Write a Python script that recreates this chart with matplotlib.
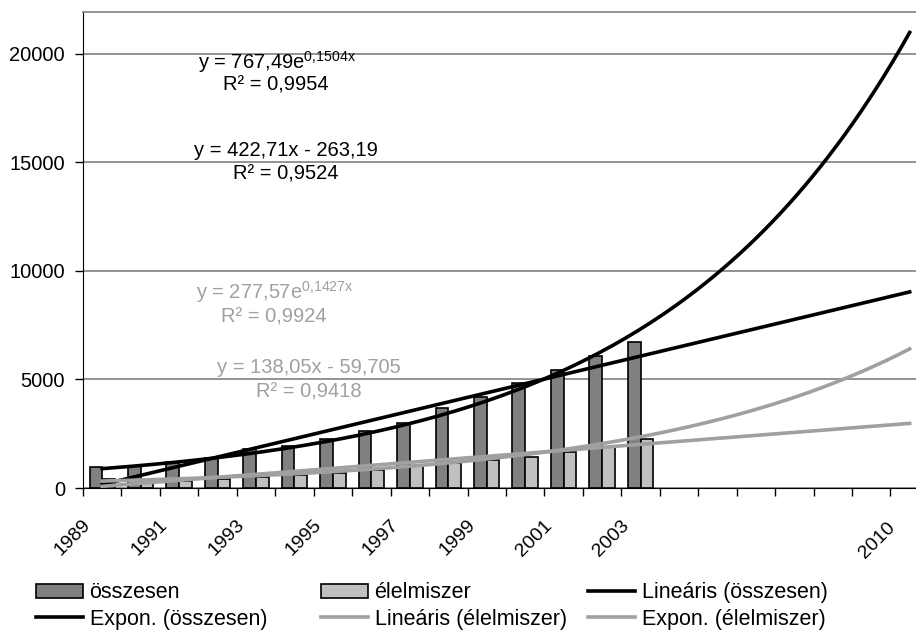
import numpy as np
import matplotlib.pyplot as plt
from matplotlib.lines import Line2D
from matplotlib.patches import Patch

plt.rcParams['font.family'] = ['Liberation Sans', 'DejaVu Sans']
plt.rcParams['mathtext.fontset'] = 'custom'
plt.rcParams['mathtext.rm'] = 'Liberation Sans'
plt.rcParams['mathtext.it'] = 'Liberation Sans'
plt.rcParams['mathtext.default'] = 'regular'

# data
years = list(range(1989, 2011))
osszesen = [980, 1000, 1180, 1400, 1800, 1950, 2270, 2630, 3000, 3700,
            4180, 4820, 5440, 6080, 6710]
elelmiszer = [415, 370, 330, 415, 520, 600, 680, 830, 1000, 1150,
              1290, 1440, 1670, 1900, 2250]
shown_years = [1989, 1991, 1993, 1995, 1997, 1999, 2001, 2003, 2010]

# trendline coefficients printed on the chart
lin_ossz = (422.71, -263.19)
exp_ossz = (767.49, 0.1504)
lin_elel = (138.05, -59.705)
exp_elel = (277.57, 0.1427)

dark = '#808080'
light = '#c0c0c0'
grey_line = '#a0a0a0'
fs = 14.5

fig = plt.figure(figsize=(9.16, 6.31), dpi=100)
ax = fig.add_axes([83 / 916, 143 / 631, 833 / 916, 476 / 631])

pos = np.arange(1, len(osszesen) + 1)
w = 0.33
ax.bar(pos - 0.165, osszesen, w, color=dark, edgecolor='black', lw=1.2, zorder=2)
ax.bar(pos + 0.165, elelmiszer, w, color=light, edgecolor='black', lw=1.2, zorder=2)

xt = np.linspace(1, len(years), 200)
ax.plot(xt, lin_ossz[0] * xt + lin_ossz[1], color='black', lw=2.6, zorder=3)
ax.plot(xt, exp_ossz[0] * np.exp(exp_ossz[1] * xt), color='black', lw=2.6, zorder=3)
ax.plot(xt, lin_elel[0] * xt + lin_elel[1], color=grey_line, lw=2.6, zorder=3)
ax.plot(xt, exp_elel[0] * np.exp(exp_elel[1] * xt), color=grey_line, lw=2.6, zorder=3)

# equation labels
ax.text(5.55, 19630, r'y = 767,49e$^{0{,}1504x}$', ha='center', va='center', fontsize=fs)
ax.text(5.52, 18570, 'R² = 0,9954', ha='center', va='center', fontsize=fs)
ax.text(5.78, 15575, 'y = 422,71x - 263,19', ha='center', va='center', fontsize=fs)
ax.text(5.78, 14470, 'R² = 0,9524', ha='center', va='center', fontsize=fs)
ax.text(5.49, 9032, r'y = 277,57e$^{0{,}1427x}$', ha='center', va='center', fontsize=fs, color=grey_line)
ax.text(5.46, 7880, 'R² = 0,9924', ha='center', va='center', fontsize=fs, color=grey_line)
ax.text(6.38, 5530, 'y = 138,05x - 59,705', ha='center', va='center', fontsize=fs, color=grey_line)
ax.text(6.38, 4424, 'R² = 0,9418', ha='center', va='center', fontsize=fs, color=grey_line)

ax.set_xlim(0.5, 0.5 + 833 / 38.45)
ax.set_ylim(0, 21935)
ax.set_yticks([0, 5000, 10000, 15000, 20000])
ax.yaxis.grid(True, color='#808080', lw=1.2)
ax.set_axisbelow(True)
ax.tick_params(axis='y', length=6, width=1, labelsize=fs, pad=7)

ax.set_xticks(np.arange(0.5, 22.5, 1.0))
ax.set_xticklabels([])
ax.tick_params(axis='x', length=6, width=1)

for y in shown_years:
    i = years.index(y) + 1
    if y == 2010:
        off = (-12, -27)
    else:
        off = (-10, -25)
    ax.annotate(str(y), xy=(i, 0), xycoords=('data', 'axes fraction'),
                xytext=off, textcoords='offset points', rotation=45,
                ha='right', va='center', rotation_mode='anchor', fontsize=14)

ax.spines['right'].set_visible(False)
ax.spines['top'].set_color('#808080')
ax.spines['top'].set_linewidth(1.2)

# legend, three columns placed like the original
h_ossz = Patch(facecolor=dark, edgecolor='black', lw=1.2)
h_elel = Patch(facecolor=light, edgecolor='black', lw=1.2)
h_blk = Line2D([], [], color='black', lw=2.6)
h_gry = Line2D([], [], color=grey_line, lw=2.6)
cols = [
    (25, [h_ossz, h_blk], ['összesen', 'Expon. (összesen)']),
    (310, [h_elel, h_gry], ['élelmiszer', 'Lineáris (élelmiszer)']),
    (577, [h_blk, h_gry], ['Lineáris (összesen)', 'Expon. (élelmiszer)']),
]
for x0, hs, ls in cols:
    fig.legend(hs, ls, loc='center left', bbox_to_anchor=(x0 / 916, 1 - 606 / 631),
               frameon=False, fontsize=15.5, borderpad=0, handlelength=2.2,
               handletextpad=0.3, labelspacing=0.25, handleheight=0.6)

fig.savefig('out.png', dpi=100)
